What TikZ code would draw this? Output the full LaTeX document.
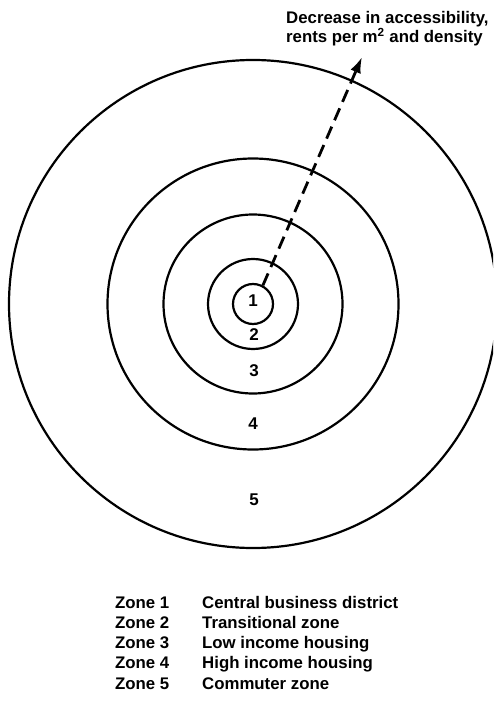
\documentclass[tikz,border=0pt]{standalone}
\usepackage{fontspec}
\setmainfont{Liberation Sans}
\usetikzlibrary{arrows.meta}
\begin{document}
\begin{tikzpicture}[x=1pt,y=-1pt,
  ring/.style={circle,draw,line width=2.2pt,inner sep=0pt},
  numlbl/.style={font=\fontsize{17}{17}\selectfont\bfseries,inner sep=0pt},
  legtxt/.style={font=\fontsize{16.8}{18}\selectfont\bfseries,inner sep=0pt,anchor=base west}]
\useasboundingbox (0,0) rectangle (493,719);
\clip (0,0) rectangle (493,719);
\coordinate (c) at (253,304);
\node[ring,minimum size=40pt] (z1) at (c) {};
\node[ring,minimum size=90pt] (z2) at (c) {};
\node[ring,minimum size=179pt] (z3) at (c) {};
\node[ring,minimum size=291pt] (z4) at (c) {};
\node[ring,minimum size=488pt] (z5) at (c) {};
\node[numlbl] (n1) at (253,301) {1};
\node[numlbl] (n2) at (254,335) {2};
\node[numlbl] (n3) at (254,371) {3};
\node[numlbl] (n4) at (253,424) {4};
\node[numlbl] (n5) at (254,500) {5};
\node[font=\fontsize{16.8}{19.5}\selectfont\bfseries,align=left,anchor=north west,inner sep=0pt] (title) at (286,11) {Decrease in accessibility,\\rents per m\textsuperscript{2} and density};
\coordinate (tip) at (362,57);
\draw[line width=2.8pt,dash pattern=on 13pt off 7pt,-{Latex[length=16pt,width=11pt]}] (z1.62) -- (tip);
\foreach \i/\d [count=\k] in {1/Central business district,2/Transitional zone,3/Low income housing,4/High income housing,5/Commuter zone}{
  \node[legtxt] (zl\i) at (115,{608+20.3*(\k-1)}) {Zone \i};
  \node[legtxt] (zd\i) at (202,{608+20.3*(\k-1)}) {\d};
}
\end{tikzpicture}
\end{document}
